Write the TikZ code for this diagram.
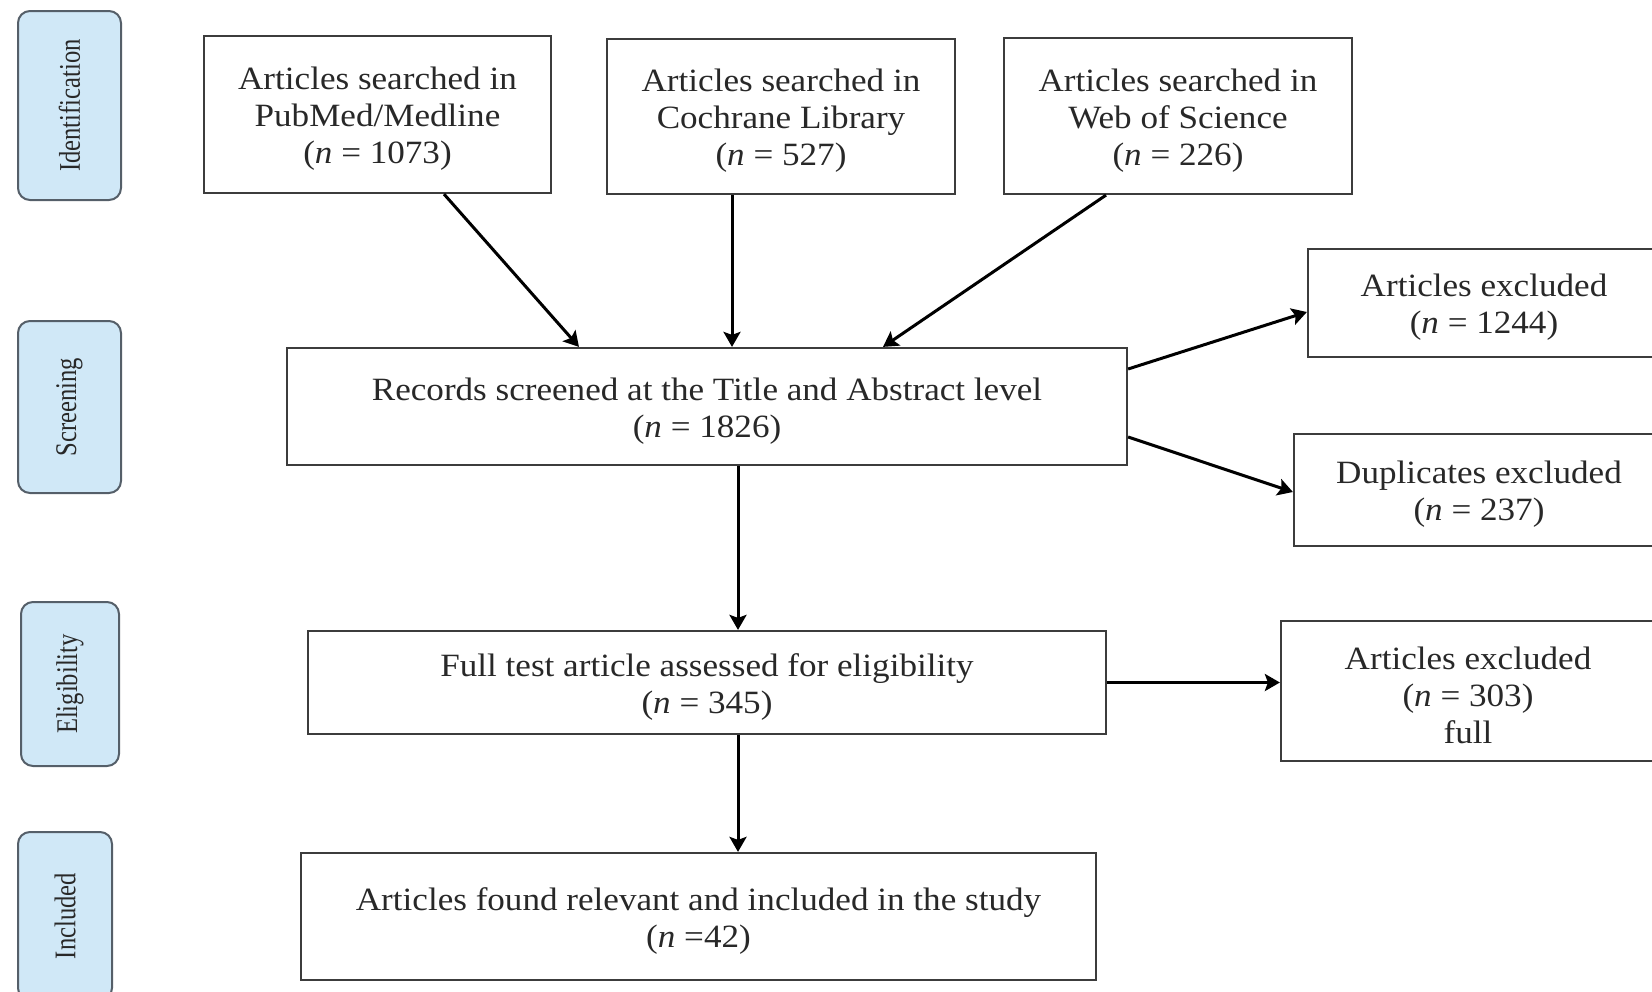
\documentclass[tikz,border=0pt]{standalone}
\usepackage{fontspec}
\setmainfont[FakeStretch=1.08]{Liberation Serif}
\newfontfamily\phasefont[FakeStretch=0.82]{Liberation Serif}
\usetikzlibrary{arrows.meta}
\definecolor{phasefill}{RGB}{208,232,247}
\definecolor{phaseedge}{RGB}{85,95,105}
\definecolor{boxedge}{RGB}{60,60,60}
\definecolor{txt}{RGB}{40,40,40}
\newcommand{\topstrut}{\rule{0pt}{31pt}}
\begin{document}
\begin{tikzpicture}[x=1pt,y=-1pt,
  box/.style={draw=boxedge, line width=2.2pt, fill=white, text=txt, align=center, inner sep=0pt,
    font=\fontsize{32.5}{37}\selectfont},
  phase/.style={draw=phaseedge, line width=2pt, fill=phasefill, rounded corners=12pt, inner sep=0pt,
    text=txt, rotate=90, font=\phasefont\fontsize{30}{32}\selectfont},
  arr/.style={-{Stealth[length=15pt,width=17pt,inset=3pt]}, line width=3pt, black}]
\useasboundingbox (0,0) rectangle (1652,991);
\clip (0,0) rectangle (1652,991);
% phase labels
\node[phase, minimum width=189pt, minimum height=103pt] (id) at (69.5,105.5) {Identification};
\node[phase, minimum width=172pt, minimum height=103pt] (scr) at (69.5,407) {Screening};
\node[phase, minimum width=164pt, minimum height=98pt] (eli) at (70,684) {Eligibility};
\node[phase, minimum width=168pt, minimum height=94pt] (inc) at (65,916) {Included};
% boxes
\node[box, minimum width=347pt, minimum height=157pt] (pub) at (377.5,114.5)
  {\topstrut Articles searched in\\PubMed/Medline\\(\textit{n} = 1073)};
\node[box, minimum width=348pt, minimum height=155pt] (coch) at (781,116.5)
  {\topstrut Articles searched in\\Cochrane Library\\(\textit{n} = 527)};
\node[box, minimum width=348pt, minimum height=156pt] (wos) at (1178,116)
  {\topstrut Articles searched in\\Web of Science\\(\textit{n} = 226)};
\node[box, minimum width=840pt, minimum height=117pt] (rec) at (707,406.5)
  {\topstrut Records screened at the Title and Abstract level\\(\textit{n} = 1826)};
\node[box, minimum width=352pt, minimum height=108pt] (ex1) at (1484,303)
  {\topstrut Articles excluded\\(\textit{n} = 1244)};
\node[box, minimum width=370pt, minimum height=112pt] (dup) at (1479,490)
  {\topstrut Duplicates excluded\\(\textit{n} = 237)};
\node[box, minimum width=798pt, minimum height=103pt] (full) at (707,682.5)
  {\topstrut Full test article assessed for eligibility\\(\textit{n} = 345)};
\node[box, minimum width=374pt, minimum height=140pt] (ex2) at (1468,691)
  {\topstrut Articles excluded\\(\textit{n} = 303)\\full};
\node[box, minimum width=795pt, minimum height=127pt] (fin) at (698.5,916.5)
  {\topstrut Articles found relevant and included in the study\\(\textit{n} =42)};
% arrows
\draw[arr] ([xshift=66.5pt]pub.south) -- ([xshift=-128pt]rec.north);
\draw[arr] ([xshift=-49pt]coch.south) -- ([xshift=25pt]rec.north);
\draw[arr] ([xshift=-72pt]wos.south) -- ([xshift=176pt]rec.north);
\draw[arr] ([yshift=37.5pt]rec.east) -- ([yshift=-9pt]ex1.west);
\draw[arr] ([yshift=-30.5pt]rec.east) -- ([yshift=-2pt]dup.west);
\draw[arr] ([xshift=31pt]rec.south) -- ([xshift=31pt]full.north);
\draw[arr] (full.east) -- (full.east -| ex2.west);
\draw[arr] ([xshift=31pt]full.south) -- ([xshift=31pt]full.south |- fin.north);
\end{tikzpicture}
\end{document}
